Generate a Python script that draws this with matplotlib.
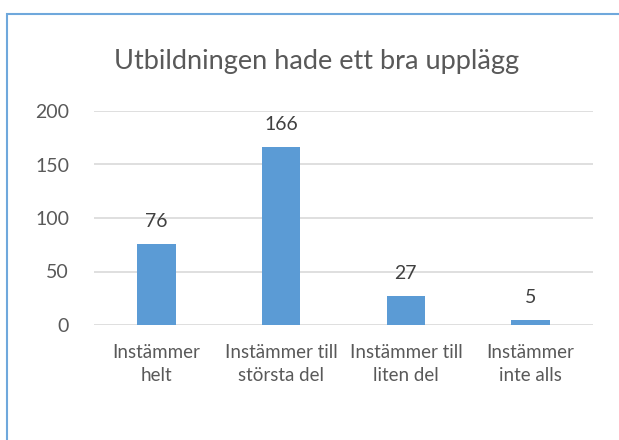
import matplotlib.pyplot as plt
from matplotlib.patches import Rectangle

# Svarsalternativ och antal svar
kategorier = ["Instämmer\nhelt", "Instämmer till\nstörsta del", "Instämmer till\nliten del", "Instämmer\ninte alls"]
antal = [76, 166, 27, 5]
y_ticks = [0, 50, 100, 150, 200]

plt.rcParams['font.family'] = ['Lato', 'DejaVu Sans']
grå = '#595959'

fig = plt.figure(figsize=(6.19, 4.40), dpi=100)
ax = fig.add_axes([94/619, 1 - 325/440, 499/619, 214/440])

x = range(len(antal))
staplar = ax.bar(x, antal, width=0.31, color='#5B9BD5', zorder=3)
for s, v in zip(staplar, antal):
    ax.text(s.get_x() + s.get_width()/2, v + 13, str(v), ha='center', va='bottom', fontsize=14, color='#404040')

ax.set_xlim(-0.5, len(antal) - 0.5)
ax.set_ylim(0, 200)
ax.set_yticks(y_ticks)
ax.set_xticks(list(x))
ax.set_xticklabels(kategorier, fontsize=13.5, color=grå, linespacing=1.4)
ax.tick_params(axis='y', labelsize=14, labelcolor=grå, length=0, pad=18)
ax.tick_params(axis='x', length=0, pad=14)
ax.grid(axis='y', color='#D9D9D9', linewidth=1.2, zorder=0)
for side in ['top', 'right', 'left', 'bottom']:
    ax.spines[side].set_visible(False)

fig.text(317/619, 1 - 61/440, 'Utbildningen hade ett bra upplägg', ha='center', va='center', fontsize=19.5, color=grå)

# ram runt diagrammet (höger och nederkant syns inte)
fig.patches.append(Rectangle((7/619, -0.1), 1.2, 1 - 14/440 + 0.1, transform=fig.transFigure,
                             fill=False, edgecolor='#6FA8DC', linewidth=1.5))

fig.savefig('out.png', dpi=100)
